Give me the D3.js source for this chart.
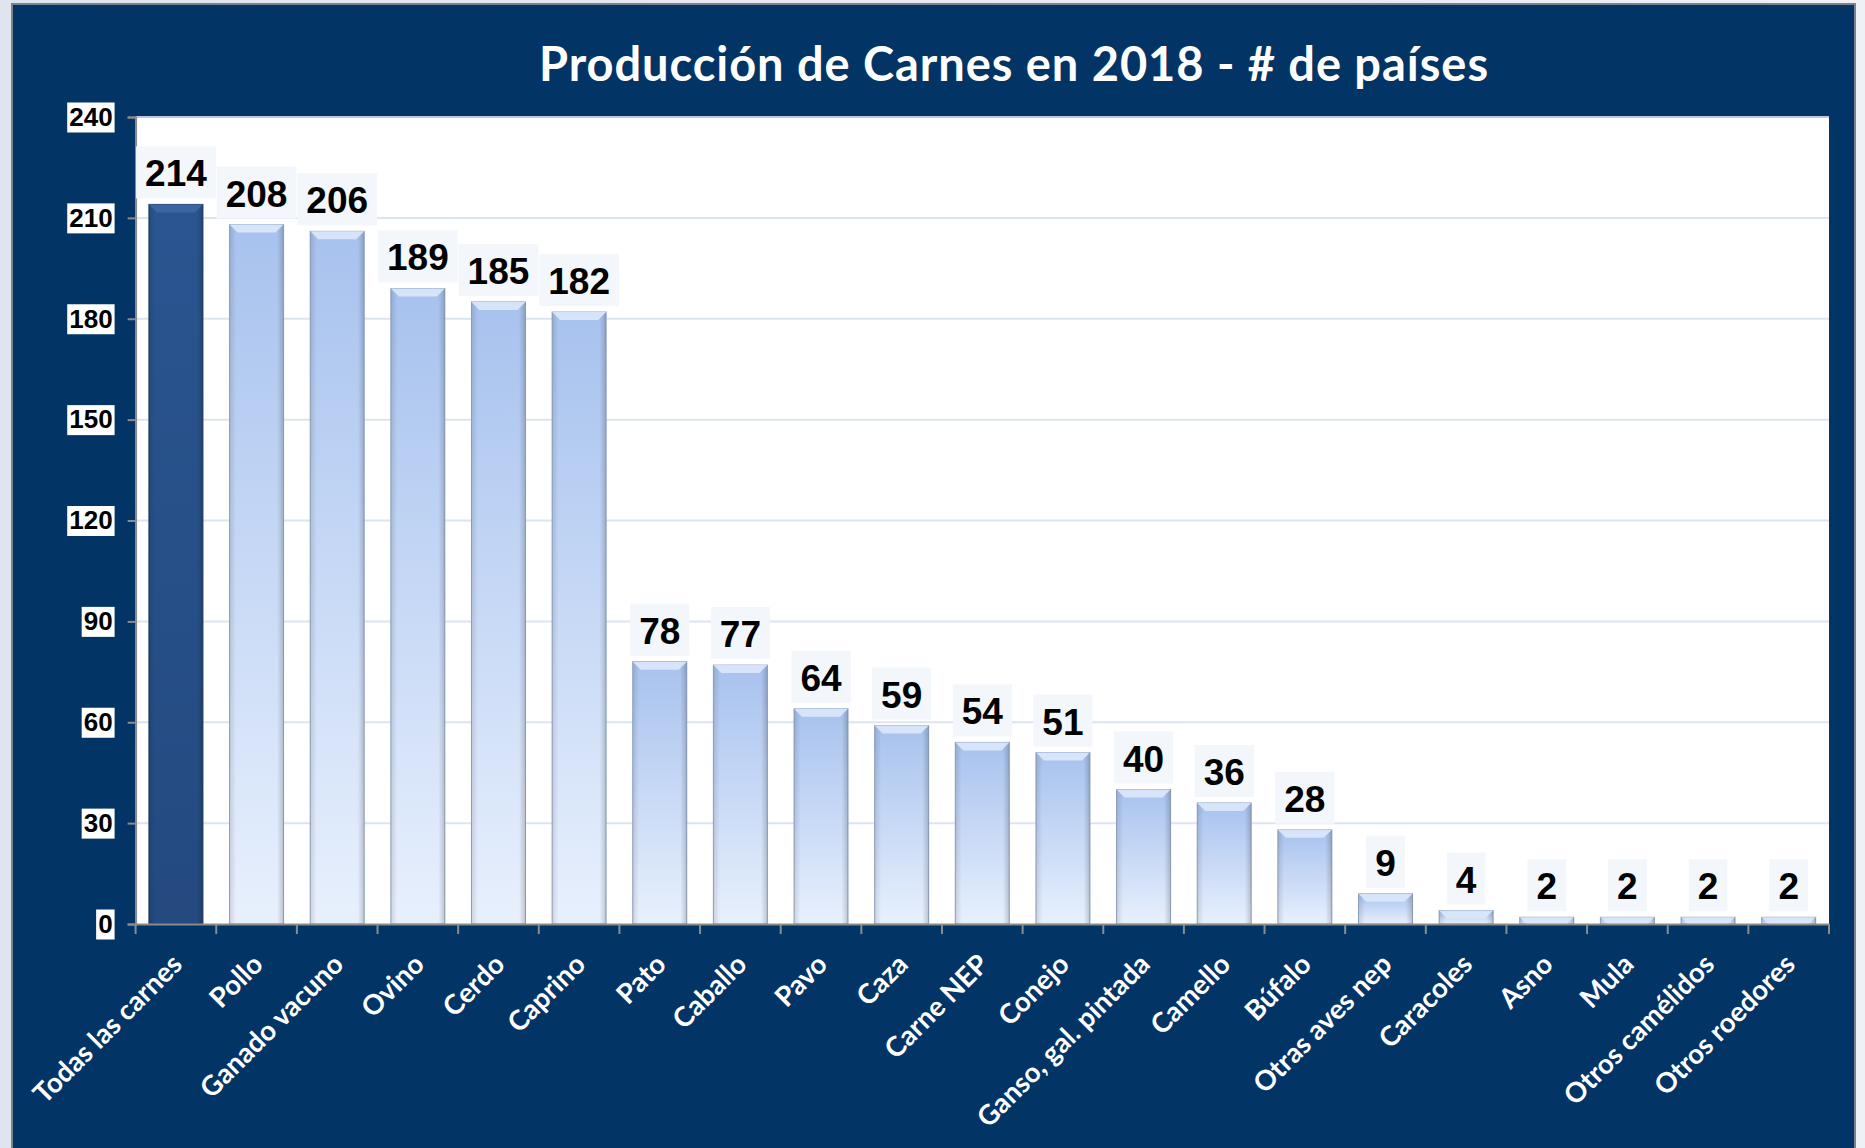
<!DOCTYPE html>
<html>
<head>
<meta charset="utf-8">
<script src="https://cdn.jsdelivr.net/npm/d3@7"></script>
<style>
  body { margin: 0; background: #e9edf3; }
  svg { display: block; }
</style>
</head>
<body>
<svg width="1865" height="1148"></svg>
<script>
// datos
const categorias = ["Todas las carnes", "Pollo", "Ganado vacuno", "Ovino", "Cerdo", "Caprino",
  "Pato", "Caballo", "Pavo", "Caza", "Carne NEP", "Conejo", "Ganso, gal. pintada",
  "Camello", "Búfalo", "Otras aves nep", "Caracoles", "Asno", "Mula", "Otros camélidos", "Otros roedores"];
const paises = [214, 208, 206, 189, 185, 182, 78, 77, 64, 59, 54, 51, 40, 36, 28, 9, 4, 2, 2, 2, 2];
const yTicks = [0, 30, 60, 90, 120, 150, 180, 210, 240];
const titulo = "Producción de Carnes en 2018 - # de países";

const svg = d3.select("svg");
const plot = { left: 135.6, right: 1829, top: 117, bottom: 924 };

// fondo
const defs = svg.append("defs");
const bgGrad = defs.append("linearGradient").attr("id", "bg").attr("x1", 0).attr("x2", 1);
bgGrad.append("stop").attr("offset", 0).attr("stop-color", "#dfe5ee");
bgGrad.append("stop").attr("offset", 1).attr("stop-color", "#eef1f6");
svg.append("rect").attr("width", 1865).attr("height", 1148).attr("fill", "url(#bg)");

// panel azul
svg.append("rect")
  .attr("x", 12).attr("y", 4).attr("width", 1843).attr("height", 1160)
  .attr("fill", "#023466").attr("stroke", "#7a8290").attr("stroke-width", 2);

// gradientes de barras
const light = defs.append("linearGradient").attr("id", "light").attr("x1", 0).attr("x2", 0).attr("y1", 0).attr("y2", 1);
light.append("stop").attr("offset", 0).attr("stop-color", "#a7c2ee");
light.append("stop").attr("offset", 1).attr("stop-color", "#e8f0fd");
const dark = defs.append("linearGradient").attr("id", "dark").attr("x1", 0).attr("x2", 0).attr("y1", 0).attr("y2", 1);
dark.append("stop").attr("offset", 0).attr("stop-color", "#2a5590");
dark.append("stop").attr("offset", 1).attr("stop-color", "#244a80");
const side = defs.append("linearGradient").attr("id", "side").attr("x1", 0).attr("x2", 1);
side.append("stop").attr("offset", 0).attr("stop-color", "#000").attr("stop-opacity", 0.12);
side.append("stop").attr("offset", 0.12).attr("stop-color", "#000").attr("stop-opacity", 0);
side.append("stop").attr("offset", 0.88).attr("stop-color", "#000").attr("stop-opacity", 0);
side.append("stop").attr("offset", 1).attr("stop-color", "#000").attr("stop-opacity", 0.18);

// area del grafico
svg.append("rect")
  .attr("x", plot.left).attr("y", plot.top)
  .attr("width", plot.right - plot.left).attr("height", plot.bottom - plot.top)
  .attr("fill", "#ffffff");

const x = d3.scaleBand()
  .domain(categorias)
  .range([plot.left, plot.right])
  .paddingInner(0.33)
  .paddingOuter(0.165);

const y = d3.scaleLinear().domain([0, 240]).range([plot.bottom, plot.top]);

// lineas de cuadricula
svg.append("g")
  .selectAll("line")
  .data(yTicks.filter((d) => d > 0))
  .enter()
  .append("line")
  .attr("x1", plot.left).attr("x2", plot.right)
  .attr("y1", (d) => y(d)).attr("y2", (d) => y(d))
  .attr("stroke", (d) => (d === 240 ? "#b8c8de" : "#dbe4f1"))
  .attr("stroke-width", 2);

// barras
const barG = svg.append("g")
  .selectAll("g")
  .data(categorias)
  .enter()
  .append("g");

barG.append("rect")
  .attr("x", (d) => x(d))
  .attr("y", (d, i) => y(paises[i]))
  .attr("width", x.bandwidth())
  .attr("height", (d, i) => y(0) - y(paises[i]))
  .attr("fill", (d, i) => (i === 0 ? "url(#dark)" : "url(#light)"))
  .attr("stroke", (d, i) => (i === 0 ? "#1d3d6b" : "#93a6c4"))
  .attr("stroke-width", 1);

barG.append("rect")
  .attr("x", (d) => x(d))
  .attr("y", (d, i) => y(paises[i]))
  .attr("width", x.bandwidth())
  .attr("height", (d, i) => y(0) - y(paises[i]))
  .attr("fill", "url(#side)");

// bisel superior
barG.append("path")
  .attr("d", (d, i) => {
    const x0 = x(d), x1 = x(d) + x.bandwidth(), t = y(paises[i]);
    const h = Math.min(8, y(0) - t);
    return `M${x0},${t} L${x1},${t} L${x1 - h},${t + h} L${x0 + h},${t + h} Z`;
  })
  .attr("fill", (d, i) => (i === 0 ? "#3d68a6" : "#dce8fb"))
  .attr("opacity", 0.9);

// ejes
const yAxis = svg.append("g")
  .attr("transform", `translate(${plot.left},0)`)
  .call(d3.axisLeft(y).tickValues(yTicks).tickSize(8).tickPadding(15));
yAxis.select(".domain").attr("stroke", "#8c8c8c").attr("stroke-width", 2);
yAxis.selectAll(".tick line").attr("stroke", "#8c8c8c").attr("stroke-width", 2);
yAxis.selectAll(".tick text")
  .attr("fill", "#000")
  .style("font-family", "Arial, 'Liberation Sans', sans-serif")
  .style("font-weight", "bold")
  .style("font-size", "26px");
yAxis.selectAll(".tick").each(function () {
  const t = d3.select(this).select("text");
  const b = t.node().getBBox();
  d3.select(this).insert("rect", "text")
    .attr("x", b.x - 2).attr("y", -15)
    .attr("width", b.width + 4).attr("height", 30)
    .attr("fill", "#fff");
});

const xAxis = svg.append("g")
  .attr("transform", `translate(0,${plot.bottom})`)
  .call(d3.axisBottom(x).tickSize(0).tickPadding(0));
xAxis.select(".domain").attr("stroke", "#8c8c8c").attr("stroke-width", 2);
xAxis.selectAll(".tick text")
  .attr("fill", "#fff")
  .attr("text-anchor", "end")
  .attr("dy", 0)
  .attr("transform", "translate(8,42) rotate(-45)")
  .style("font-family", "Lato, 'Open Sans', sans-serif")
  .style("font-weight", "bold")
  .style("font-size", "27.5px");

// marcas en los limites de categoria
const paso = x.step();
svg.append("g")
  .selectAll("line")
  .data(d3.range(categorias.length + 1))
  .enter()
  .append("line")
  .attr("x1", (i) => plot.left + i * paso).attr("x2", (i) => plot.left + i * paso)
  .attr("y1", plot.bottom).attr("y2", plot.bottom + 10)
  .attr("stroke", "#8c8c8c").attr("stroke-width", 2);

// etiquetas de valores
const lab = svg.append("g")
  .selectAll("g")
  .data(categorias)
  .enter()
  .append("g")
  .attr("transform", (d, i) => `translate(${x(d) + x.bandwidth() / 2},${y(paises[i]) - 18})`);

lab.append("text")
  .attr("text-anchor", "middle")
  .style("font-family", "Arial, 'Liberation Sans', sans-serif")
  .style("font-weight", "bold")
  .style("font-size", "37px")
  .attr("fill", "#000")
  .text((d, i) => paises[i]);

lab.each(function () {
  const t = d3.select(this).select("text");
  const w = t.node().getComputedTextLength();
  d3.select(this).insert("rect", "text")
    .attr("x", -w / 2 - 9).attr("y", -40)
    .attr("width", w + 18).attr("height", 52)
    .attr("fill", "#f3f6fa");
});

// titulo
const tit = svg.append("text")
  .attr("x", 1014).attr("y", 81)
  .attr("text-anchor", "middle")
  .attr("fill", "#fff")
  .style("font-family", "Lato, 'Open Sans', sans-serif")
  .style("font-weight", "bold")
  .style("font-size", "47px")
  .text(titulo);
const tl = tit.node().getComputedTextLength();
tit.style("letter-spacing", `${(950 - tl) / titulo.length}px`);
</script>
</body>
</html>
